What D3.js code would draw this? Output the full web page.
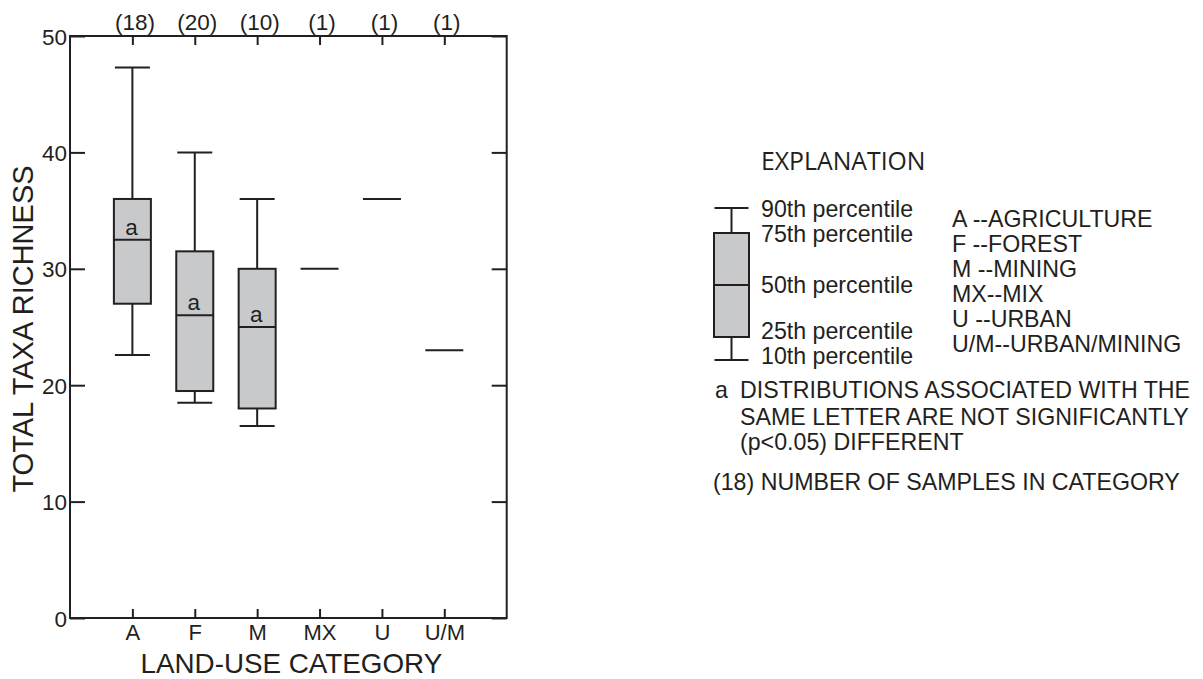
<!DOCTYPE html>
<html>
<head>
<meta charset="utf-8">
<script src="https://cdn.jsdelivr.net/npm/d3@7"></script>
<style>
  html, body { margin: 0; padding: 0; background: #ffffff; }
  svg { display: block; }
  text { font-family: Arial, "Liberation Sans", sans-serif; fill: #231f20; }
</style>
</head>
<body>
<svg id="chart" width="1203" height="679"></svg>
<script>
// Land-use categories and sample counts
const categories = ["A", "F", "M", "MX", "U", "U/M"];
const sampleCounts = [18, 20, 10, 1, 1, 1];

// Percentiles of total taxa richness per category (null where n = 1)
const p10 = [22.6, 18.5, 16.5, null, null, null];
const p25 = [27, 19.5, 18, null, null, null];
const p50 = [32.5, 26, 25, 30, 36, 23];
const p75 = [36, 31.5, 30, null, null, null];
const p90 = [47.3, 40, 36, null, null, null];

// Significance grouping letters
const groupLetters = ["a", "a", "a", null, null, null];

const yTicks = [0, 10, 20, 30, 40, 50];

// Legend text
const landUseKey = ["A --AGRICULTURE", "F --FOREST", "M --MINING", "MX--MIX", "U --URBAN", "U/M--URBAN/MINING"];
const percentileKey = [90, 75, 50, 25, 10];
const noteLines = ["DISTRIBUTIONS ASSOCIATED WITH THE", "SAME LETTER ARE NOT SIGNIFICANTLY", "(p<0.05) DIFFERENT"];

const ink = "#231f20";
const boxFill = "#c8c9cb";
const sw = 2;
const legendFont = "23.2px";

const svg = d3.select("#chart");

const plot = { left: 70, right: 506.7, top: 36, bottom: 618 };

const x = d3.scalePoint().domain(categories).range([plot.left, plot.right]).padding(1);
const y = d3.scaleLinear().domain([0, 50]).range([plot.bottom, plot.top]);

const boxW = 37, capW = 35, singleW = 38;

// Frame
svg.append("rect")
  .attr("x", plot.left).attr("y", plot.top)
  .attr("width", plot.right - plot.left).attr("height", plot.bottom - plot.top)
  .attr("fill", "none").attr("stroke", ink).attr("stroke-width", sw);

// Y axis, left and right, ticks pointing inward
const yLeft = svg.append("g").attr("transform", `translate(${plot.left},0)`)
  .call(d3.axisRight(y).tickValues(yTicks).tickSize(15).tickFormat(""));
yLeft.select(".domain").remove();
yLeft.selectAll(".tick line").attr("stroke", ink).attr("stroke-width", sw);

yLeft.selectAll(".tick").append("text")
  .attr("x", -3).attr("dy", "0.36em")
  .attr("text-anchor", "end")
  .style("font-size", "22.5px")
  .text(d => d);

const yRight = svg.append("g").attr("transform", `translate(${plot.right},0)`)
  .call(d3.axisLeft(y).tickValues(yTicks).tickSize(15).tickFormat(""));
yRight.select(".domain").remove();
yRight.selectAll(".tick line").attr("stroke", ink).attr("stroke-width", sw);

// X axis ticks, bottom and top, pointing inward
const xBottom = svg.append("g").attr("transform", `translate(0,${plot.bottom})`)
  .call(d3.axisTop(x).tickSize(9).tickFormat(""));
xBottom.select(".domain").remove();
xBottom.selectAll(".tick line").attr("stroke", ink).attr("stroke-width", sw);
xBottom.selectAll(".tick").append("text")
  .attr("y", 22).attr("text-anchor", "middle")
  .style("font-size", "22px")
  .text(d => d);

const xTop = svg.append("g").attr("transform", `translate(0,${plot.top})`)
  .call(d3.axisBottom(x).tickSize(9).tickFormat(""));
xTop.select(".domain").remove();
xTop.selectAll(".tick line").attr("stroke", ink).attr("stroke-width", sw);
xTop.selectAll(".tick").append("text")
  .attr("x", 2).attr("y", -6).attr("text-anchor", "middle")
  .style("font-size", "22.5px")
  .text((d, i) => `(${sampleCounts[i]})`);

// Axis titles
svg.append("text")
  .attr("x", (plot.left + plot.right) / 2 + 3).attr("y", 672.5)
  .attr("text-anchor", "middle")
  .style("font-size", "27.8px")
  .text("LAND-USE CATEGORY");

svg.append("text")
  .attr("transform", `translate(33,${(plot.top + plot.bottom) / 2 + 2}) rotate(-90)`)
  .attr("text-anchor", "middle")
  .style("font-size", "29px")
  .text("TOTAL TAXA RICHNESS");

// Box plots
const rows = categories.map((c, i) => ({
  c, p10: p10[i], p25: p25[i], p50: p50[i], p75: p75[i], p90: p90[i], letter: groupLetters[i]
}));

const g = svg.append("g");
rows.forEach(r => {
  const cx = x(r.c);
  if (r.p25 == null) {
    // single-sample category: one horizontal line at the value
    g.append("line")
      .attr("x1", cx - singleW / 2).attr("x2", cx + singleW / 2)
      .attr("y1", y(r.p50)).attr("y2", y(r.p50))
      .attr("stroke", ink).attr("stroke-width", sw);
    return;
  }
  // whiskers
  g.append("line").attr("x1", cx).attr("x2", cx).attr("y1", y(r.p90)).attr("y2", y(r.p75))
    .attr("stroke", ink).attr("stroke-width", sw);
  g.append("line").attr("x1", cx).attr("x2", cx).attr("y1", y(r.p25)).attr("y2", y(r.p10))
    .attr("stroke", ink).attr("stroke-width", sw);
  [r.p90, r.p10].forEach(v => {
    g.append("line").attr("x1", cx - capW / 2).attr("x2", cx + capW / 2)
      .attr("y1", y(v)).attr("y2", y(v))
      .attr("stroke", ink).attr("stroke-width", sw);
  });
  // box
  g.append("rect")
    .attr("x", cx - boxW / 2).attr("y", y(r.p75))
    .attr("width", boxW).attr("height", y(r.p25) - y(r.p75))
    .attr("fill", boxFill).attr("stroke", ink).attr("stroke-width", sw);
  // median
  g.append("line").attr("x1", cx - boxW / 2).attr("x2", cx + boxW / 2)
    .attr("y1", y(r.p50)).attr("y2", y(r.p50))
    .attr("stroke", ink).attr("stroke-width", sw);
  // grouping letter
  if (r.letter) {
    g.append("text")
      .attr("x", cx - 1).attr("y", y(r.p50) - 5)
      .attr("text-anchor", "middle")
      .style("font-size", "22.5px")
      .text(r.letter);
  }
});

// Explanation
const leg = svg.append("g");
leg.append("text")
  .attr("x", 761).attr("y", 170)
  .style("font-family", "'Open Sans', 'Noto Sans', sans-serif")
  .style("font-size", "24.8px")
  .text("EXPLANATION");

// Schematic box: percentile -> vertical position
const ly = d3.scaleLinear().domain([10, 25, 50, 75, 90]).range([360, 337, 285, 233, 208]);
const lcx = 731.5, lBoxW = 35, lCapW = 34;
leg.append("line").attr("x1", lcx).attr("x2", lcx).attr("y1", ly(90)).attr("y2", ly(75))
  .attr("stroke", ink).attr("stroke-width", sw);
leg.append("line").attr("x1", lcx).attr("x2", lcx).attr("y1", ly(25)).attr("y2", ly(10))
  .attr("stroke", ink).attr("stroke-width", sw);
[90, 10].forEach(p => {
  leg.append("line").attr("x1", lcx - lCapW / 2).attr("x2", lcx + lCapW / 2)
    .attr("y1", ly(p)).attr("y2", ly(p)).attr("stroke", ink).attr("stroke-width", sw);
});
leg.append("rect").attr("x", lcx - lBoxW / 2).attr("y", ly(75))
  .attr("width", lBoxW).attr("height", ly(25) - ly(75))
  .attr("fill", boxFill).attr("stroke", ink).attr("stroke-width", sw);
leg.append("line").attr("x1", lcx - lBoxW / 2).attr("x2", lcx + lBoxW / 2)
  .attr("y1", ly(50)).attr("y2", ly(50)).attr("stroke", ink).attr("stroke-width", sw);

// Percentile labels
const pctBaseline = { 90: 217, 75: 242, 50: 293, 25: 338.5, 10: 364 };
percentileKey.forEach(p => {
  leg.append("text")
    .attr("x", 761).attr("y", pctBaseline[p])
    .style("font-size", legendFont)
    .text(`${p}th percentile`);
});

// Land-use key
landUseKey.forEach((t, i) => {
  leg.append("text")
    .attr("x", 952).attr("y", 226.5 + i * 25)
    .style("font-size", legendFont)
    .text(t);
});

// Notes
leg.append("text").attr("x", 715).attr("y", 398).style("font-size", legendFont).text("a");
noteLines.forEach((t, i) => {
  leg.append("text")
    .attr("x", 740).attr("y", [398, 424.5, 450][i])
    .style("font-size", legendFont)
    .text(t);
});
leg.append("text").attr("x", 713).attr("y", 490).style("font-size", legendFont)
  .text("(18) NUMBER OF SAMPLES IN CATEGORY");
</script>
</body>
</html>
